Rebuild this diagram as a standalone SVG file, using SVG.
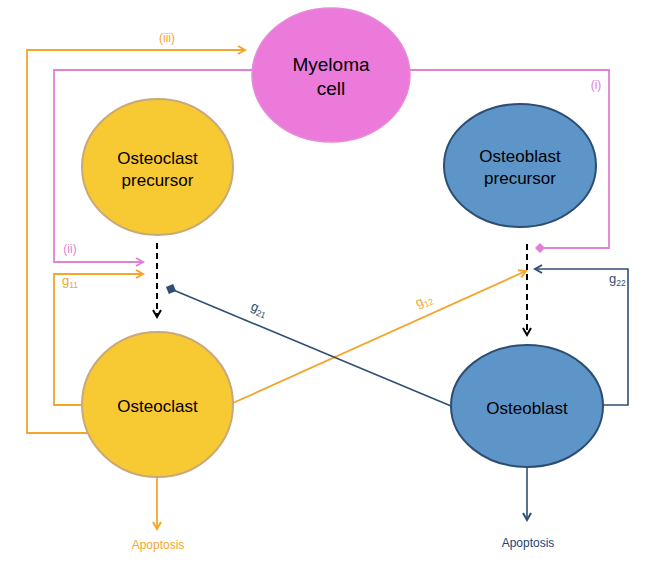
<svg xmlns="http://www.w3.org/2000/svg" width="661" height="568" viewBox="0 0 661 568">
<style>
  .node-text { font-family: "Liberation Sans", Arial, sans-serif; font-size: 17px; fill: #000; text-anchor: middle; }
  .lbl { font-family: "Liberation Sans", Arial, sans-serif; font-size: 12px; }
  .g { font-size: 13px; }
  .sub { font-size: 8.5px; }
  .orange { stroke: #F5A52C; stroke-width: 1.8; fill: none; }
  .pink { stroke: #E27FD6; stroke-width: 1.8; fill: none; }
  .blue { stroke: #2F4F73; stroke-width: 1.6; fill: none; }
  .dash { stroke: #000; stroke-width: 2; fill: none; stroke-dasharray: 6 4; }
</style>
<defs>
  <marker id="arrOrange" markerUnits="userSpaceOnUse" markerWidth="12" markerHeight="12" refX="8" refY="5" orient="auto">
    <path d="M1,1 L8,5 L1,9" fill="none" stroke="#F5A52C" stroke-width="2"/>
  </marker>
  <marker id="arrPink" markerUnits="userSpaceOnUse" markerWidth="12" markerHeight="12" refX="8" refY="5" orient="auto">
    <path d="M1,1 L8,5 L1,9" fill="none" stroke="#E27FD6" stroke-width="2"/>
  </marker>
  <marker id="arrBlue" markerUnits="userSpaceOnUse" markerWidth="12" markerHeight="12" refX="8" refY="5" orient="auto">
    <path d="M1,1 L8,5 L1,9" fill="none" stroke="#2F4F73" stroke-width="2"/>
  </marker>
  <marker id="arrBlack" markerUnits="userSpaceOnUse" markerWidth="12" markerHeight="12" refX="8" refY="5" orient="auto">
    <path d="M1,1 L8,5 L1,9" fill="none" stroke="#000" stroke-width="2"/>
  </marker>
  <marker id="diaPink" markerUnits="userSpaceOnUse" markerWidth="12" markerHeight="12" refX="5" refY="5" orient="auto">
    <path d="M0,5 L5,0 L10,5 L5,10 Z" fill="#E27FD6"/>
  </marker>
  <marker id="diaBlue" markerUnits="userSpaceOnUse" markerWidth="12" markerHeight="12" refX="5.5" refY="5.5" orient="auto">
    <path d="M0,5.5 L5.5,0 L11,5.5 L5.5,11 Z" fill="#2F4F73"/>
  </marker>
</defs>

<g id="connectors">
  <path class="orange" d="M88,433 L27,433 L27,50 L245,50" marker-end="url(#arrOrange)"/>
  <path class="pink" d="M252,70 L54,70 L54,262 L143,262" marker-end="url(#arrPink)"/>
  <path class="pink" d="M410,70 L609,70 L609,248 L540,248" marker-end="url(#diaPink)"/>
  <path class="orange" d="M82,405 L54,405 L54,274 L143,274" marker-end="url(#arrOrange)"/>
  <path class="orange" d="M233,403 L526,271" marker-end="url(#arrOrange)"/>
  <path class="blue" d="M451,406 L171,289" marker-end="url(#diaBlue)"/>
  <path class="blue" d="M603,405 L628,405 L628,269 L535,269" marker-end="url(#arrBlue)"/>
  <path class="dash" d="M157,243 L157,317" marker-end="url(#arrBlack)"/>
  <path class="dash" d="M527,244 L527,335" marker-end="url(#arrBlack)"/>
  <path class="orange" d="M157,477 L157,529" marker-end="url(#arrOrange)"/>
  <path class="blue" d="M527,467 L527,520" marker-end="url(#arrBlue)"/>

  <text class="lbl" x="167" y="42" fill="#F5A52C" text-anchor="middle">(iii)</text>
  <text class="lbl" x="70" y="253" fill="#E27FD6" text-anchor="middle">(ii)</text>
  <text class="lbl" x="596" y="89" fill="#E27FD6" text-anchor="middle">(i)</text>
  <text class="lbl g" x="62" y="285" fill="#F5A52C">g<tspan class="sub" dy="3">11</tspan></text>
  <text class="lbl g" x="609" y="283" fill="#2F4F73">g<tspan class="sub" dy="3">22</tspan></text>
  <text class="lbl g" x="249" y="312" fill="#2F4F73" transform="rotate(22.6 256 313)">g<tspan class="sub" dy="3">21</tspan></text>
  <text class="lbl g" x="416" y="305" fill="#F5A52C" transform="rotate(-24.2 423 302)">g<tspan class="sub" dy="3">12</tspan></text>
  <text class="lbl" x="158" y="549" fill="#F5A52C" text-anchor="middle">Apoptosis</text>
  <text class="lbl" x="528" y="547" fill="#1F3F7A" text-anchor="middle">Apoptosis</text>
</g>

<g id="myeloma">
  <ellipse cx="331" cy="75" rx="79" ry="67" fill="#EC7ADB" stroke="#E58AD9" stroke-width="1.5"/>
  <text class="node-text" x="331" y="71" style="font-size:19px">Myeloma</text>
  <text class="node-text" x="331" y="95" style="font-size:19px">cell</text>
</g>
<g id="osteoclast-precursor">
  <ellipse cx="157.5" cy="167" rx="75.5" ry="68" fill="#F7C932" stroke="#C8A97B" stroke-width="2"/>
  <text class="node-text" x="157.5" y="164">Osteoclast</text>
  <text class="node-text" x="157.5" y="186">precursor</text>
</g>
<g id="osteoblast-precursor">
  <ellipse cx="520" cy="165.5" rx="76" ry="61.5" fill="#5D95C8" stroke="#2D4E72" stroke-width="2"/>
  <text class="node-text" x="520" y="162">Osteoblast</text>
  <text class="node-text" x="520" y="184">precursor</text>
</g>
<g id="osteoclast">
  <ellipse cx="157.5" cy="404.5" rx="75.5" ry="72.5" fill="#F7C932" stroke="#C8A97B" stroke-width="2"/>
  <text class="node-text" x="157.5" y="412">Osteoclast</text>
</g>
<g id="osteoblast">
  <ellipse cx="527" cy="406" rx="76" ry="61" fill="#5D95C8" stroke="#2D4E72" stroke-width="2"/>
  <text class="node-text" x="527" y="414">Osteoblast</text>
</g>
</svg>
